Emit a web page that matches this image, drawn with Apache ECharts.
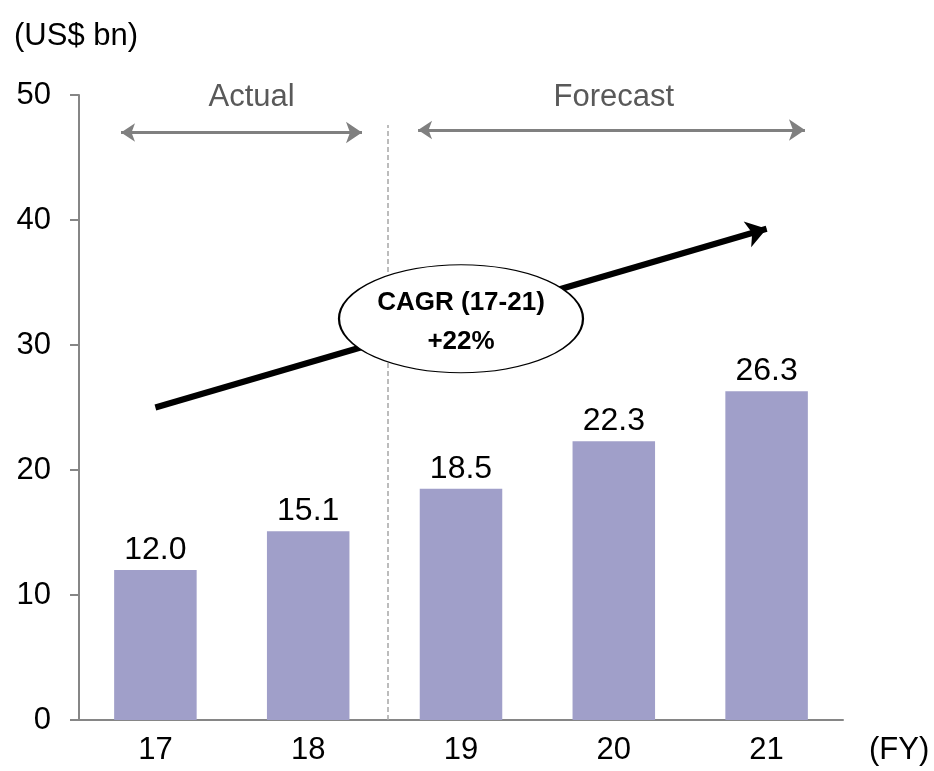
<!DOCTYPE html>
<html>
<head>
<meta charset="utf-8">
<script src="https://cdn.jsdelivr.net/npm/echarts@6/dist/echarts.min.js"></script>
<style>
  html, body { margin: 0; padding: 0; background: #fff; }
  #chart { width: 934px; height: 771px; }
</style>
</head>
<body>
<div id="chart"></div>
<script>
// Fiscal years and market size (US$ bn)
const years = ['17', '18', '19', '20', '21'];
const marketSize = [12.0, 15.1, 18.5, 22.3, 26.3];
const yTicks = [0, 10, 20, 30, 40, 50];
const periodNames = ['Actual', 'Forecast'];
const cagrLines = ['CAGR (17-21)', '+22%'];

// Annotation anchors, expressed on a 0..5 span across the five year slots
const periodTextAt = [[1.13, 49.8], [3.5, 49.8]];
const periodArrowAt = [[[0.275, 47.0], [1.852, 47.0]], [[2.219, 47.2], [4.751, 47.2]]];
const dividerAt = [[2.02, 0], [2.02, 47.6]];
const trendArrowAt = [[0.5, 25.0], [4.5, 39.3]];
const badgeAt = [2.5, 32.1];

const FONT = '"Liberation Sans", Arial, sans-serif';
const chart = echarts.init(document.getElementById('chart'), null, { renderer: 'canvas' });

chart.setOption({
  animation: false,
  backgroundColor: '#ffffff',
  textStyle: { fontFamily: FONT },
  title: {
    text: '(US$ bn)',
    left: 9,
    top: 16,
    textStyle: { fontSize: 31, fontWeight: 'normal', color: '#000', fontFamily: FONT }
  },
  grid: { left: 79, right: 91, top: 95, bottom: 51, containLabel: false, outerBoundsMode: 'none' },
  xAxis: [
    {
      type: 'category',
      data: years,
      axisLine: { show: true, lineStyle: { color: '#868686', width: 2 } },
      axisTick: { show: false },
      axisLabel: { fontSize: 31, color: '#000', margin: 15, fontFamily: FONT },
      name: '(FY)',
      nameLocation: 'end',
      nameGap: 26,
      nameTextStyle: { fontSize: 31, color: '#000', verticalAlign: 'top', lineHeight: 60, fontFamily: FONT }
    },
    { type: 'value', min: 0, max: 5, show: false }
  ],
  yAxis: {
    type: 'value',
    min: yTicks[0],
    max: yTicks[yTicks.length - 1],
    interval: yTicks[1] - yTicks[0],
    axisLine: { show: true, lineStyle: { color: '#868686', width: 2 } },
    axisTick: { show: true, inside: false, length: 9, lineStyle: { color: '#868686', width: 2 } },
    splitLine: { show: false },
    axisLabel: { fontSize: 31, color: '#000', margin: 28, fontFamily: FONT }
  },
  series: [
    {
      type: 'bar',
      data: marketSize,
      barWidth: '54%',
      itemStyle: { color: '#a09fc9' },
      label: {
        show: true, position: 'top', distance: 4,
        fontSize: 32, color: '#000', fontFamily: FONT,
        formatter: p => p.value.toFixed(1)
      },
      z: 2
    },
    {
      // dashed divider between actual and forecast years
      type: 'lines', coordinateSystem: 'cartesian2d', xAxisIndex: 1, yAxisIndex: 0,
      silent: true, symbol: 'none',
      lineStyle: { color: '#a6a6a6', width: 1.5, type: [5, 3], opacity: 1 },
      data: [{ coords: dividerAt }],
      z: 3
    },
    {
      // period span arrows
      type: 'lines', coordinateSystem: 'cartesian2d', xAxisIndex: 1, yAxisIndex: 0,
      silent: true, symbol: ['arrow', 'arrow'], symbolSize: [14, 16],
      lineStyle: { color: '#808080', width: 3, opacity: 1 },
      data: periodArrowAt.map(c => ({ coords: c })),
      z: 3
    },
    {
      // growth trend arrow
      type: 'lines', coordinateSystem: 'cartesian2d', xAxisIndex: 1, yAxisIndex: 0,
      silent: true, symbol: ['none', 'arrow'], symbolSize: [20, 20],
      lineStyle: { color: '#000', width: 6, opacity: 1 },
      data: [{ coords: trendArrowAt }],
      z: 4
    },
    {
      // period captions
      type: 'scatter', xAxisIndex: 1, yAxisIndex: 0, silent: true,
      symbolSize: 1, itemStyle: { color: 'rgba(0,0,0,0)', opacity: 1 },
      label: {
        show: true, position: 'inside', fontSize: 31, color: '#595959', fontFamily: FONT,
        formatter: p => p.name
      },
      data: periodNames.map((n, i) => ({ name: n, value: periodTextAt[i] })),
      z: 5
    },
    {
      // CAGR badge
      type: 'scatter', xAxisIndex: 1, yAxisIndex: 0, silent: true,
      symbol: 'circle', symbolSize: [244, 108],
      itemStyle: { color: '#fff', borderColor: '#000', borderWidth: 1.5, opacity: 1 },
      label: {
        show: true, position: 'inside', offset: [0, 4],
        formatter: cagrLines.join('\n'),
        fontSize: 26, fontWeight: 'bold', color: '#000', lineHeight: 39, fontFamily: FONT
      },
      data: [badgeAt],
      z: 6
    }
  ]
});
</script>
</body>
</html>
